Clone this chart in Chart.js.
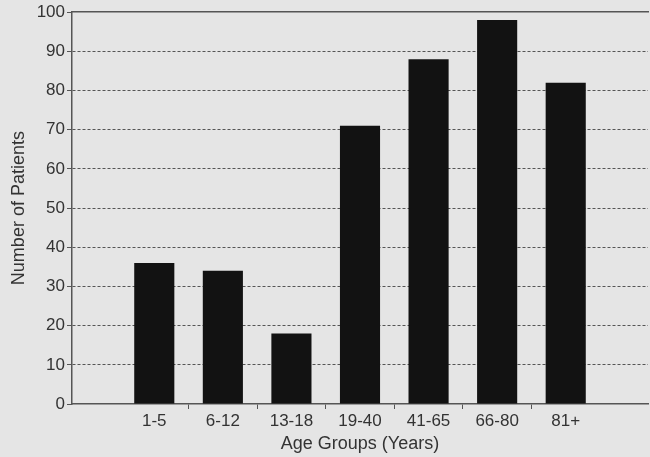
<!DOCTYPE html>
<html>
<head>
<meta charset="utf-8">
<script src="https://cdn.jsdelivr.net/npm/chart.js@4"></script>
<style>
  html, body { margin: 0; padding: 0; background: #e5e5e5; }
  #wrap { width: 650px; height: 457px; }
</style>
</head>
<body>
<div id="wrap"><canvas id="ageChart"></canvas></div>
<script>
const ageGroups = ["1-5", "6-12", "13-18", "19-40", "41-65", "66-80", "81+"];
const patients = [36, 34, 18, 71, 88, 98, 82];
const yTicks = { min: 0, max: 100, step: 10 };

const textColor = "#333";
const lineColor = "#555";
const font = { family: "'Liberation Sans', Arial, sans-serif", size: 17 };
const titleFont = { family: "'Liberation Sans', Arial, sans-serif", size: 18 };

const isWhole = v => Math.abs(v - Math.round(v)) < 1e-6;

new Chart(document.getElementById("ageChart"), {
  type: "bar",
  data: {
    datasets: [{
      label: "Number of Patients",
      data: patients.map((v, i) => ({ x: i, y: v })),
      backgroundColor: "#121212",
      borderWidth: 0,
      categoryPercentage: 1,
      // half-step ticks make the bar ruler half a category wide
      barPercentage: 1.17
    }]
  },
  options: {
    responsive: true,
    maintainAspectRatio: false,
    animation: false,
    layout: { padding: { top: 3, right: 0, bottom: 0, left: 0 } },
    plugins: { legend: { display: false }, tooltip: { enabled: false } },
    scales: {
      x: {
        type: "linear",
        offset: false,
        min: -1.2,
        max: ageGroups.length - 1 + 1.2,
        afterFit: s => { s.height = 53; },
        border: { color: lineColor, width: 1.5 },
        grid: {
          offset: false,
          drawOnChartArea: false,
          tickLength: 5,
          tickColor: c => {
            const v = c.tick ? c.tick.value : NaN;
            return (!isWhole(v) && v > 0 && v < ageGroups.length - 1) ? lineColor : "transparent";
          }
        },
        ticks: {
          stepSize: 0.5,
          autoSkip: false,
          maxRotation: 0,
          padding: 2,
          color: textColor,
          font,
          callback: v => (isWhole(v) && ageGroups[Math.round(v)]) ? ageGroups[Math.round(v)] : ""
        },
        title: { display: true, text: "Age Groups (Years)", color: textColor, font: titleFont, padding: { top: 0, bottom: 2 } }
      },
      x2: {
        type: "linear",
        position: "top",
        min: -1.2,
        max: ageGroups.length - 1 + 1.2,
        border: { color: lineColor, width: 1.5 },
        grid: { drawOnChartArea: false, drawTicks: false },
        ticks: { display: false }
      },
      y: {
        min: yTicks.min,
        max: yTicks.max,
        afterFit: s => { s.width = 72; },
        border: { color: lineColor, width: 1.5, dash: [3, 2] },
        grid: {
          color: c => (c.tick && (c.tick.value === yTicks.max || c.tick.value === yTicks.min)) ? "transparent" : lineColor,
          tickColor: lineColor,
          tickLength: 5,
          lineWidth: 1
        },
        ticks: { stepSize: yTicks.step, padding: 2, color: textColor, font },
        title: { display: true, text: "Number of Patients", color: textColor, font: titleFont, padding: { top: 8, bottom: 0 } }
      }
    }
  }
});
</script>
</body>
</html>
